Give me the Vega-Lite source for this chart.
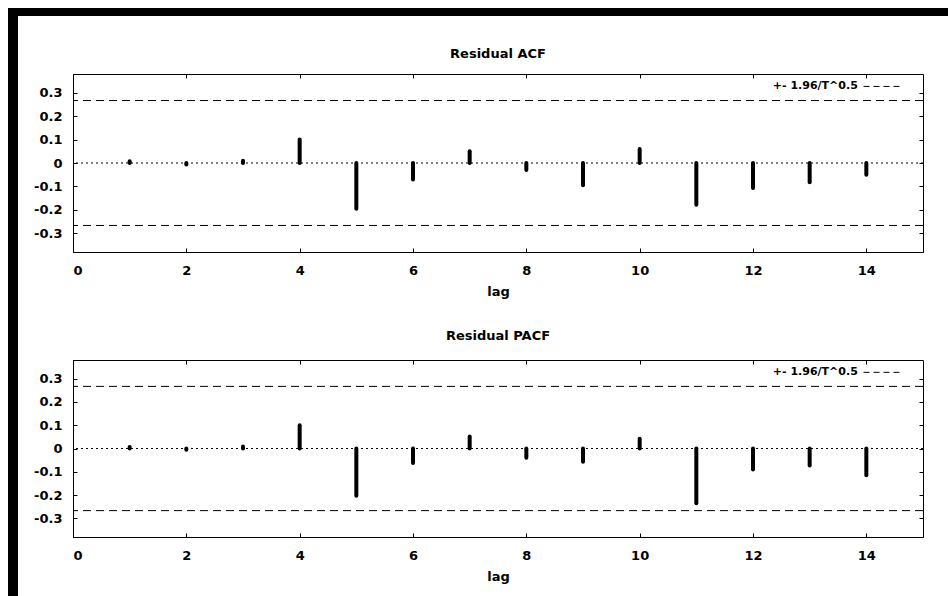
{
  "$schema": "https://vega.github.io/schema/vega-lite/v6.json",
  "padding": {"left": 8, "top": 8, "right": 0, "bottom": 0},
  "background": "white",
  "spacing": 0,
  "config": {
    "font": "DejaVu Sans",
    "view": {"stroke": "black", "strokeWidth": 1},
    "axis": {"labelFont": "DejaVu Sans", "labelFontWeight": "bold", "labelFontSize": 13, "labelColor": "black", "titleFont": "DejaVu Sans", "titleFontWeight": "bold", "titleFontSize": 13, "titleColor": "black", "domainColor": "black", "tickColor": "black", "grid": false, "tickSize": -4},
    "title": {"font": "DejaVu Sans", "fontSize": 13, "fontWeight": "bold", "color": "black", "offset": 17}
  },
  "datasets": {
    "acf": [
      {"lag": 1, "value": 0.007}, {"lag": 2, "value": -0.006}, {"lag": 3, "value": 0.01}, {"lag": 4, "value": 0.1},
      {"lag": 5, "value": -0.195}, {"lag": 6, "value": -0.07}, {"lag": 7, "value": 0.05}, {"lag": 8, "value": -0.03},
      {"lag": 9, "value": -0.095}, {"lag": 10, "value": 0.06}, {"lag": 11, "value": -0.178}, {"lag": 12, "value": -0.107},
      {"lag": 13, "value": -0.082}, {"lag": 14, "value": -0.05}
    ],
    "pacf": [
      {"lag": 1, "value": 0.006}, {"lag": 2, "value": -0.005}, {"lag": 3, "value": 0.009}, {"lag": 4, "value": 0.1},
      {"lag": 5, "value": -0.203}, {"lag": 6, "value": -0.062}, {"lag": 7, "value": 0.052}, {"lag": 8, "value": -0.04},
      {"lag": 9, "value": -0.057}, {"lag": 10, "value": 0.042}, {"lag": 11, "value": -0.235}, {"lag": 12, "value": -0.09},
      {"lag": 13, "value": -0.073}, {"lag": 14, "value": -0.115}
    ],
    "bands": [{"y": 0.2667}, {"y": -0.2667}],
    "zero": [{"y": 0}],
    "legend": [{"x": 13.85, "xs": 13.95, "xe": 14.65, "y": 0.327, "label": "+- 1.96/T^0.5"}],
    "empty": []
  },
  "vconcat": [
    {
      "data": {"name": "empty"},
      "width": 940,
      "height": 8,
      "view": {"fill": "black", "stroke": null},
      "mark": {"type": "point", "opacity": 0},
      "encoding": {}
    },
    {
      "spacing": 15,
      "hconcat": [
        {
          "data": {"name": "empty"},
          "width": 10,
          "height": 580,
          "view": {"fill": "black", "stroke": null},
          "mark": {"type": "point", "opacity": 0},
          "encoding": {}
        },
        {
          "spacing": 30,
          "vconcat": [
            {
              "data": {"name": "empty"},
              "width": 1,
              "height": 1,
              "view": {"stroke": null},
              "mark": {"type": "point", "opacity": 0},
              "encoding": {}
            },
            {
              "title": {"text": "Residual ACF", "offset": 13},
              "width": 850,
              "height": 178,
              "resolve": {"axis": {"x": "independent", "y": "independent"}},
              "layer": [
                {
                  "data": {"name": "zero"},
                  "mark": {"type": "rule", "strokeDash": [2, 3], "strokeWidth": 1, "color": "black"},
                  "encoding": {
                    "y": {"field": "y", "type": "quantitative", "scale": {"domain": [-0.38, 0.38], "nice": false, "zero": false},
                      "axis": {"values": [-0.3, -0.2, -0.1, 0, 0.1, 0.2, 0.3], "title": null, "labelPadding": 15, "labelExpr": "datum.value == 0 ? '0' : (datum.value < 0 ? '-' : '') + format(abs(datum.value), '.1f')"}}
                  }
                },
                {
                  "data": {"name": "bands"},
                  "mark": {"type": "rule", "strokeDash": [8, 5], "strokeWidth": 1, "color": "black"},
                  "encoding": {"y": {"field": "y", "type": "quantitative", "axis": null}}
                },
                {
                  "data": {"name": "acf"},
                  "mark": {"type": "rule", "strokeWidth": 4, "strokeCap": "round", "color": "black"},
                  "encoding": {
                    "x": {"field": "lag", "type": "quantitative", "scale": {"domain": [0, 15], "nice": false},
                      "axis": {"values": [0, 2, 4, 6, 8, 10, 12, 14], "title": "lag", "labelPadding": 16, "titlePadding": 8}},
                    "y": {"field": "value", "type": "quantitative", "axis": null},
                    "y2": {"datum": 0}
                  }
                },
                {
                  "data": {"name": "legend"},
                  "mark": {"type": "text", "align": "right", "baseline": "middle", "font": "DejaVu Sans", "fontWeight": "bold", "fontSize": 11, "color": "black"},
                  "encoding": {
                    "x": {"field": "x", "type": "quantitative", "axis": null},
                    "y": {"field": "y", "type": "quantitative", "axis": null},
                    "text": {"field": "label"}
                  }
                },
                {
                  "data": {"name": "legend"},
                  "mark": {"type": "rule", "strokeDash": [6, 4], "strokeWidth": 1, "color": "black"},
                  "encoding": {
                    "x": {"field": "xs", "type": "quantitative", "axis": {"orient": "top", "values": [0, 2, 4, 6, 8, 10, 12, 14], "labels": false, "domain": false, "title": null}},
                    "x2": {"field": "xe"},
                    "y": {"field": "y", "type": "quantitative", "axis": {"orient": "right", "values": [-0.3, -0.2, -0.1, 0, 0.1, 0.2, 0.3], "labels": false, "domain": false, "title": null}}
                  }
                }
              ]
            },
            {
              "title": "Residual PACF",
              "width": 850,
              "height": 177,
              "resolve": {"axis": {"x": "independent", "y": "independent"}},
              "layer": [
                {
                  "data": {"name": "zero"},
                  "mark": {"type": "rule", "strokeDash": [2, 3], "strokeWidth": 1, "color": "black"},
                  "encoding": {
                    "y": {"field": "y", "type": "quantitative", "scale": {"domain": [-0.38, 0.38], "nice": false, "zero": false},
                      "axis": {"values": [-0.3, -0.2, -0.1, 0, 0.1, 0.2, 0.3], "title": null, "labelPadding": 15, "labelExpr": "datum.value == 0 ? '0' : (datum.value < 0 ? '-' : '') + format(abs(datum.value), '.1f')"}}
                  }
                },
                {
                  "data": {"name": "bands"},
                  "mark": {"type": "rule", "strokeDash": [8, 5], "strokeWidth": 1, "color": "black"},
                  "encoding": {"y": {"field": "y", "type": "quantitative", "axis": null}}
                },
                {
                  "data": {"name": "pacf"},
                  "mark": {"type": "rule", "strokeWidth": 4, "strokeCap": "round", "color": "black"},
                  "encoding": {
                    "x": {"field": "lag", "type": "quantitative", "scale": {"domain": [0, 15], "nice": false},
                      "axis": {"values": [0, 2, 4, 6, 8, 10, 12, 14], "title": "lag", "labelPadding": 16, "titlePadding": 8}},
                    "y": {"field": "value", "type": "quantitative", "axis": null},
                    "y2": {"datum": 0}
                  }
                },
                {
                  "data": {"name": "legend"},
                  "mark": {"type": "text", "align": "right", "baseline": "middle", "font": "DejaVu Sans", "fontWeight": "bold", "fontSize": 11, "color": "black"},
                  "encoding": {
                    "x": {"field": "x", "type": "quantitative", "axis": null},
                    "y": {"field": "y", "type": "quantitative", "axis": null},
                    "text": {"field": "label"}
                  }
                },
                {
                  "data": {"name": "legend"},
                  "mark": {"type": "rule", "strokeDash": [6, 4], "strokeWidth": 1, "color": "black"},
                  "encoding": {
                    "x": {"field": "xs", "type": "quantitative", "axis": {"orient": "top", "values": [0, 2, 4, 6, 8, 10, 12, 14], "labels": false, "domain": false, "title": null}},
                    "x2": {"field": "xe"},
                    "y": {"field": "y", "type": "quantitative", "axis": {"orient": "right", "values": [-0.3, -0.2, -0.1, 0, 0.1, 0.2, 0.3], "labels": false, "domain": false, "title": null}}
                  }
                }
              ]
            }
          ]
        }
      ]
    }
  ]
}
